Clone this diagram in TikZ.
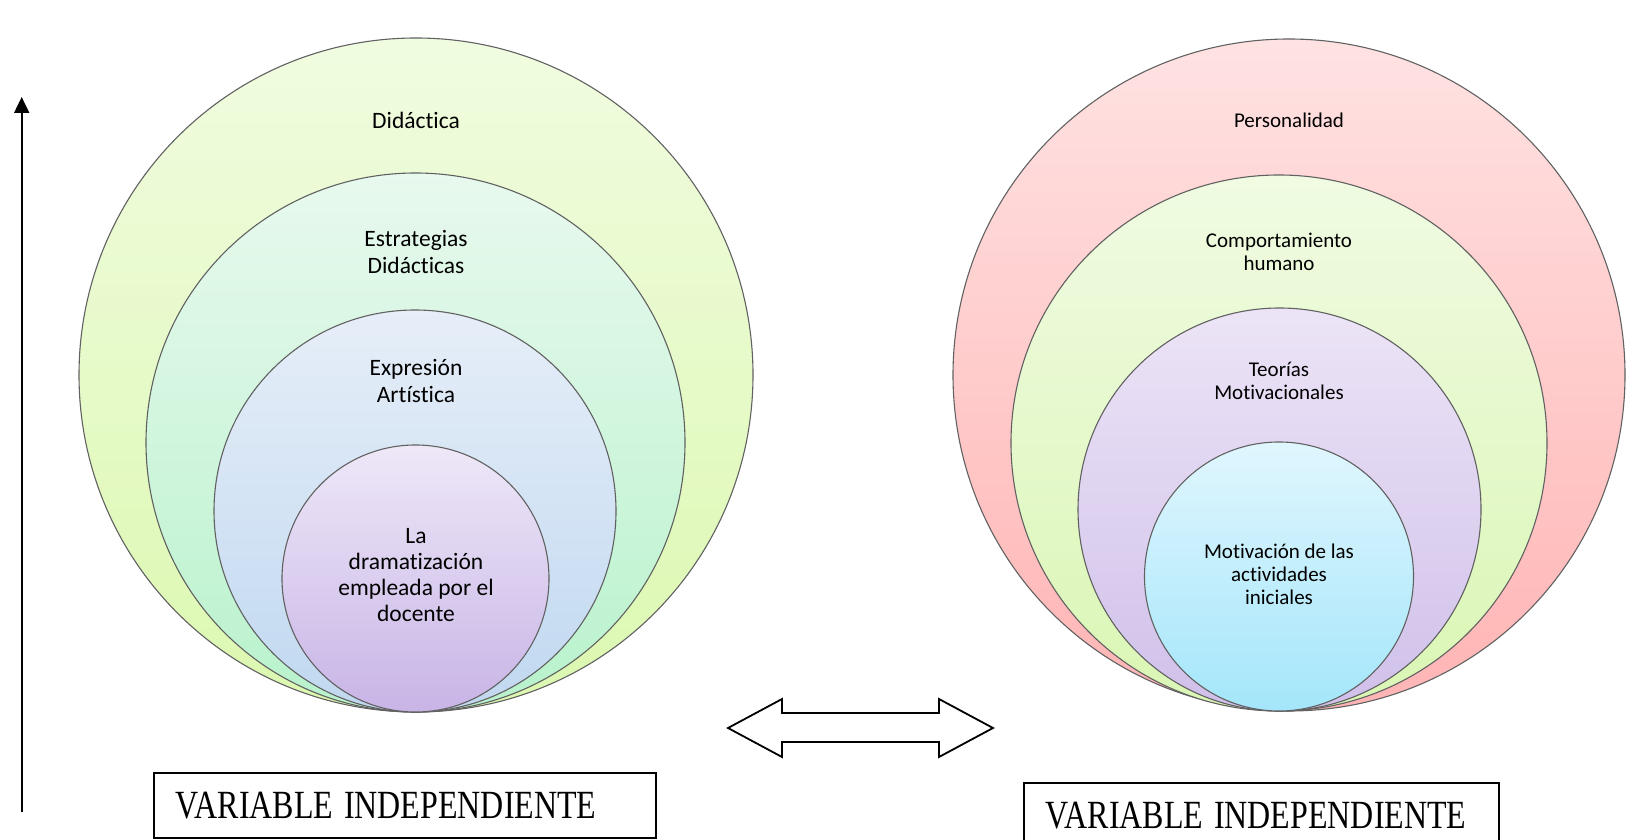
\documentclass[tikz,border=0pt]{standalone}
\usepackage{fontspec}
\setmainfont{Carlito}[Ligatures=NoCommon]
\newfontfamily\boxfont{Liberation Serif}
\usetikzlibrary{arrows.meta}

\definecolor{lOneT}{HTML}{F0FCE0}
\definecolor{lOneB}{HTML}{DCF8B0}
\definecolor{lTwoT}{HTML}{E8F9EE}
\definecolor{lTwoB}{HTML}{B8F2CC}
\definecolor{lThreeT}{HTML}{E6EEF8}
\definecolor{lThreeB}{HTML}{C0D8F0}
\definecolor{lFourT}{HTML}{EEE8F8}
\definecolor{lFourB}{HTML}{C8B4E6}
\definecolor{rOneT}{HTML}{FFE2E2}
\definecolor{rOneB}{HTML}{FFB4B4}
\definecolor{rTwoT}{HTML}{F0FBE2}
\definecolor{rTwoB}{HTML}{DAF6B4}
\definecolor{rThreeT}{HTML}{ECE4F6}
\definecolor{rThreeB}{HTML}{D0C0EA}
\definecolor{rFourT}{HTML}{E0F6FE}
\definecolor{rFourB}{HTML}{A4E6FA}

\begin{document}
\begin{tikzpicture}[x=1pt,y=1pt,
	ring/.style={draw=black!62,line width=1.1pt},
	leftlbl/.style={align=center,font=\fontsize{23.5}{26.3}\selectfont},
	rightlbl/.style={align=center,font=\fontsize{21}{23}\selectfont},
	varbox/.style={draw,line width=1.5pt,minimum height=65,inner xsep=22,align=left,anchor=north west,font=\boxfont\fontsize{32}{34}\selectfont}]
	\useasboundingbox (0,0) rectangle (1649,839);
	%%Axis
	\coordinate (axbot) at (21.7,27);
	\coordinate (axtop) at (21.7,742);
	\draw[line width=2pt,-{Triangle[length=16pt,width=15pt]}] (axbot) -- (axtop);
	%%Left circles
	\draw[ring,top color=lOneT,bottom color=lOneB] (416,464) circle (337);
	\draw[ring,top color=lTwoT,bottom color=lTwoB] (415.5,396.5) circle (269.5);
	\draw[ring,top color=lThreeT,bottom color=lThreeB] (415,328) circle (201);
	\draw[ring,top color=lFourT,bottom color=lFourB] (415.5,260.5) circle (133.5);
	%%Right circles
	\draw[ring,top color=rOneT,bottom color=rOneB] (1289,464) circle (336);
	\draw[ring,top color=rTwoT,bottom color=rTwoB] (1279,396) circle (268);
	\draw[ring,top color=rThreeT,bottom color=rThreeB] (1279.5,329.5) circle (201.5);
	\draw[ring,top color=rFourT,bottom color=rFourB] (1279,262.5) circle (134.5);
	%%Double arrow
	\draw[line width=1.8pt,fill=white] (728,111) -- (782,140) -- (782,126) -- (939,126) -- (939,140) -- (993,111)
		-- (939,82) -- (939,97) -- (782,97) -- (782,82) -- cycle;
	%%Labels
	\node[leftlbl] (didactica) at (416,719) {Didáctica};
	\node[leftlbl] (estrategias) at (416,587) {Estrategias\\Didácticas};
	\node[leftlbl] (expresion) at (416,458) {Expresión\\Artística};
	\node[leftlbl] (dramatizacion) at (416,264) {La\\dramatización\\empleada por el\\docente};
	\node[rightlbl] (personalidad) at (1289,719) {Personalidad};
	\node[rightlbl] (comportamiento) at (1279,587.5) {Comportamiento\\humano};
	\node[rightlbl] (teorias) at (1279,458.5) {Teorías\\Motivacionales};
	\node[rightlbl] (motivacion) at (1279,265) {Motivación de las\\actividades\\iniciales};
	%%Boxes
	\node[varbox,text width=458] (varizq) at (153,67) {\scalebox{1}[1.25]{VARIABLE INDEPENDIENTE}};
	\node[varbox,text width=431] (varder) at (1023,57) {\scalebox{1}[1.25]{VARIABLE INDEPENDIENTE}};
\end{tikzpicture}
\end{document}
